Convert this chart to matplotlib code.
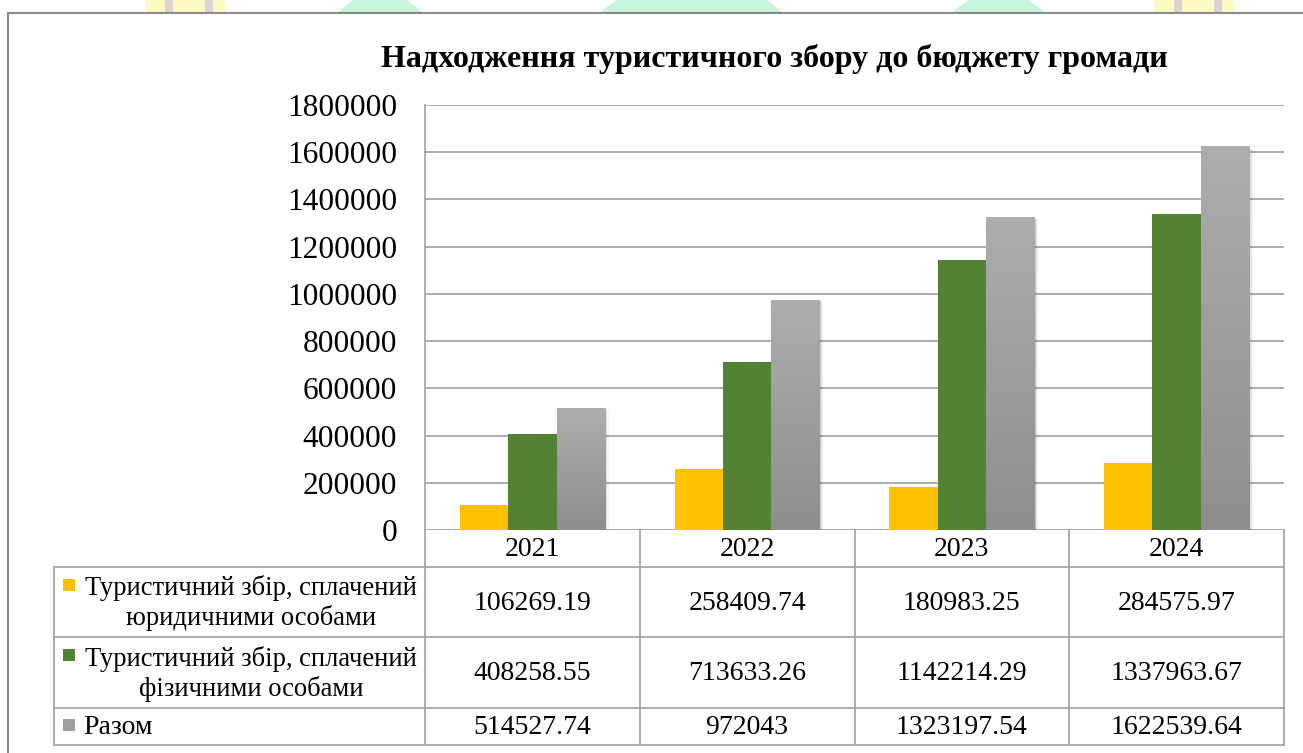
import numpy as np
import matplotlib
matplotlib.use('Agg')
import matplotlib.pyplot as plt
from matplotlib.colors import LinearSegmentedColormap
from matplotlib.patches import Rectangle, Polygon

plt.rcParams['font.family'] = ['Liberation Serif', 'DejaVu Serif']

# дані
years = ['2021', '2022', '2023', '2024']
legal = [106269.19, 258409.74, 180983.25, 284575.97]
physical = [408258.55, 713633.26, 1142214.29, 1337963.67]
total = [514527.74, 972043, 1323197.54, 1622539.64]
legal_lbl = ['106269.19', '258409.74', '180983.25', '284575.97']
physical_lbl = ['408258.55', '713633.26', '1142214.29', '1337963.67']
total_lbl = ['514527.74', '972043', '1323197.54', '1622539.64']
series_names = ['Туристичний збір, сплачений\nюридичними особами',
                'Туристичний збір, сплачений\nфізичними особами',
                'Разом']
title = 'Надходження туристичного збору до бюджету громади'

W, H = 1303, 753
fig = plt.figure(figsize=(W / 100, H / 100), dpi=100)
fig.patch.set_facecolor('white')

# фон-орнамент над рамкою
bg = fig.add_axes([0, 0, 1, 1])
bg.set_xlim(0, W)
bg.set_ylim(H, 0)
bg.axis('off')
for x0 in [145, 1154]:
    bg.add_patch(Rectangle((x0, -2), 80, 16, color='#fff9c4', lw=0))
    bg.add_patch(Rectangle((x0 + 20, -2), 8, 16, color='#d9d4d0', lw=0))
    bg.add_patch(Rectangle((x0 + 60, -2), 8, 16, color='#d9d4d0', lw=0))
for x0, x1 in [(335, 425), (598, 785), (950, 1047)]:
    bg.add_patch(Polygon([(x0, 14), (x1, 14), (x1 - 25, -5), (x0 + 25, -5)],
                         closed=True, color='#c8f5dc', lw=0))
# рамка
bg.add_patch(Rectangle((8, 13), W + 10, H + 10, fill=True, facecolor='white',
                       edgecolor='#8c8c8c', lw=1.5))

# діаграма
L, R, T, B = 425, 1284, 105, 530
ax = fig.add_axes([L / W, 1 - B / H, (R - L) / W, (B - T) / H])
ax.set_facecolor('none')
ax.set_xlim(-0.5, 3.5)
ax.set_ylim(0, 1800000)
ax.set_yticks(np.arange(0, 1800001, 200000))
ax.set_yticklabels([str(v) for v in range(0, 1800001, 200000)], fontsize=22.6)
ax.tick_params(axis='y', length=0, pad=20)
ax.set_xticks([])
ax.grid(axis='y', color='#a6a6a6', lw=1.3)
ax.set_axisbelow(True)
for s in ['top', 'right', 'bottom']:
    ax.spines[s].set_visible(False)
ax.spines['left'].set_color('#a6a6a6')
ax.spines['left'].set_linewidth(1.3)

bw = 0.225
x = np.arange(len(years))
gray_cmap = LinearSegmentedColormap.from_list('g', ['#8e8e8e', '#adadad'])
grad = np.linspace(0, 1, 100).reshape(-1, 1)
for i, (vals, col) in enumerate([(legal, '#ffc000'), (physical, '#548235'), (total, None)]):
    xs = x + (i - 1) * bw
    for xc, v in zip(xs, vals):
        # тінь
        for k, a in enumerate([0.10, 0.07, 0.04]):
            d = 0.006 * (k + 1)
            ax.add_patch(Rectangle((xc - bw / 2 + d, -8000), bw, v + 8000 - 4000 * k,
                                   color='black', alpha=a, lw=0, zorder=2))
        if col is not None:
            ax.add_patch(Rectangle((xc - bw / 2, 0), bw, v, color=col, lw=0, zorder=3))
        else:
            ax.imshow(grad, extent=[xc - bw / 2, xc + bw / 2, 0, v], origin='lower',
                      cmap=gray_cmap, aspect='auto', zorder=3)
ax.set_xlim(-0.5, 3.5)
ax.set_ylim(0, 1800000)

fig.text(774 / W, 1 - 59 / H, title, ha='center', va='center',
         fontsize=23, fontweight='bold')

# таблиця даних
tb = fig.add_axes([0, 0, 1, 1])
tb.set_xlim(0, W)
tb.set_ylim(H, 0)
tb.axis('off')
lc = '#a6a6a6'
cw = (R - L) / len(years)
cols = [L + cw * i for i in range(len(years) + 1)]
rows = [567, 637, 708, 745]
tb.plot([L, L], [B, rows[-1]], color=lc, lw=1.3)
for c in cols[1:]:
    tb.plot([c, c], [B, rows[-1]], color=lc, lw=1.3)
for r in rows:
    tb.plot([54, R], [r, r], color=lc, lw=1.3)
tb.plot([54, 54], [rows[0], rows[-1]], color=lc, lw=1.3)

for i, yr in enumerate(years):
    tb.text(cols[i] + cw / 2, 549, yr, ha='center', va='center', fontsize=20)

key_cols = ['#ffc000', '#548235', '#9e9e9e']
row_lbls = [legal_lbl, physical_lbl, total_lbl]
for j in range(3):
    yc = (rows[j] + rows[j + 1]) / 2
    for i in range(len(years)):
        tb.text(cols[i] + cw / 2, yc + 1, row_lbls[j][i], ha='center', va='center', fontsize=20)
    if j < 2:
        tb.add_patch(Rectangle((63, rows[j] + 12), 12, 12, color=key_cols[j], lw=0))
        tb.text(251, yc + 1, series_names[j], ha='center', va='center', fontsize=19.2,
                multialignment='center', linespacing=1.2)
    else:
        tb.add_patch(Rectangle((63, yc - 8), 12, 12, color=key_cols[j], lw=0))
        tb.text(83, yc + 1, series_names[j], ha='left', va='center', fontsize=20)

fig.savefig('out.png', dpi=100)
